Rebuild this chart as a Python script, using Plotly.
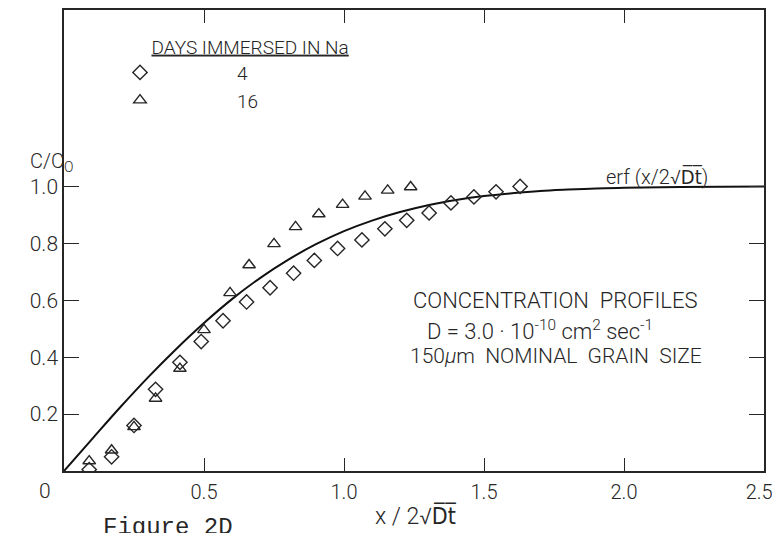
import plotly.graph_objects as go

# ---- data ----
x_4days = [0.09, 0.17, 0.25, 0.327, 0.414, 0.49, 0.568, 0.652, 0.736, 0.82,
           0.894, 0.977, 1.064, 1.146, 1.224, 1.304, 1.382, 1.464, 1.543, 1.629]
y_4days = [0.005, 0.05, 0.16, 0.287, 0.382, 0.455, 0.528, 0.594, 0.644, 0.695,
           0.74, 0.782, 0.812, 0.851, 0.881, 0.907, 0.942, 0.963, 0.981, 1.0]

x_16days = [0.09, 0.17, 0.25, 0.327, 0.414, 0.50, 0.593, 0.661, 0.75, 0.827,
            0.91, 0.995, 1.075, 1.156, 1.238]
y_16days = [0.035, 0.073, 0.155, 0.255, 0.36, 0.496, 0.626, 0.724, 0.798, 0.858,
            0.903, 0.936, 0.965, 0.986, 0.998]

# erf curve
x_curve = [0.0, 0.1, 0.2, 0.3, 0.4, 0.5, 0.6, 0.7, 0.8, 0.9, 1.0, 1.1, 1.2,
           1.3, 1.4, 1.5, 1.6, 1.7, 1.8, 1.9, 2.0, 2.2, 2.5]
y_curve = [0.0, 0.112, 0.223, 0.329, 0.428, 0.52, 0.604, 0.678, 0.742, 0.797,
           0.843, 0.88, 0.91, 0.934, 0.952, 0.966, 0.976, 0.984, 0.989, 0.993,
           0.995, 0.998, 1.0]

NB = "\u00a0"
x_tickvals = [0.5, 1.0, 1.5, 2.0, 2.5]
x_ticktext = ["0.5", "1.0", "1.5", "2.0", "2.5" + NB * 2]
y_tickvals = [0.2, 0.4, 0.6, 0.8, 1.0]
y_ticktext = ["0.2", "0.4", "0.6", "0.8", "1.0"]

INK = "#262626"
FONT = "Roboto, 'DejaVu Sans Condensed', sans-serif"

fig = go.Figure()
fig.add_trace(go.Scatter(x=x_curve, y=y_curve, mode="lines", line=dict(color="#111", width=2, shape="spline"),
                         showlegend=False, hoverinfo="skip"))
fig.add_trace(go.Scatter(x=x_4days, y=y_4days, mode="markers", name="4",
                         marker=dict(symbol="diamond-open", size=11, color=INK, line=dict(width=1.4, color=INK))))
fig.add_trace(go.Scatter(x=x_16days, y=y_16days, mode="markers", name="16",
                         marker=dict(symbol="triangle-up-open", size=11, color=INK, line=dict(width=1.4, color=INK))))

# the page body has an 8px margin: plot area is placed so that on screen it spans x 64..764, y 8..471
fig.update_layout(
    width=780, height=533,
    margin=dict(l=56, r=24, t=0, b=70, pad=0),
    paper_bgcolor="white", plot_bgcolor="white",
    font=dict(family=FONT, color=INK, size=22, weight=300),
    legend=dict(
        x=(43 - 64) / 700.0, y=1 - (27 - 8) / 463.0, xanchor="left", yanchor="top",
        title=dict(text=NB * 23 + "<u>DAYS" + NB + "IMMERSED" + NB + "IN" + NB + "Na</u>",
                   font=dict(size=19, family=FONT, color=INK)),
        font=dict(size=19, family=FONT, color=INK),
        itemwidth=184, bgcolor="rgba(0,0,0,0)", tracegroupgap=0,
    ),
    xaxis=dict(range=[0, 2.5], tickvals=x_tickvals, ticktext=x_ticktext,
               showgrid=False, zeroline=False, showline=True, mirror="ticks",
               linecolor=INK, linewidth=1.5, ticks="inside", ticklen=13, tickwidth=1.3,
               tickcolor=INK, tickfont=dict(size=20), ticklabelstandoff=2),
    yaxis=dict(range=[0, 1.62], tickvals=y_tickvals, ticktext=y_ticktext,
               showgrid=False, zeroline=False, showline=True, mirror="ticks",
               linecolor=INK, linewidth=1.5, ticks="inside", ticklen=15, tickwidth=1.3,
               tickcolor=INK, tickfont=dict(size=21)),
)

def px_to_paper(px, py):
    return (px - 64) / 700.0, 1 - (py - 8) / 463.0

ann = []
def add_text(text, px, py, size, **kw):
    xp, yp = px_to_paper(px, py)
    d = dict(text=text, x=xp, y=yp, xref="paper", yref="paper", showarrow=False,
             xanchor="center", yanchor="middle", font=dict(size=size))
    d.update(kw)
    ann.append(d)

add_text("0", 45, 491, 21)
add_text("C/C<sub>O</sub>", 51, 161, 20)
add_text("x" + NB + "/" + NB + "2\u221aD\u0305t\u0305", 416, 516, 23)
add_text("erf" + NB + "(x/2\u221aD\u0305t\u0305)", 657, 175, 20)
add_text("CONCENTRATION" + NB * 2 + "PROFILES", 555, 300, 22)
add_text("D" + NB + "=" + NB + "3.0" + NB + "\u00b7" + NB + "10<sup>-10</sup>" + NB + "cm<sup>2</sup>" + NB + "sec<sup>-1</sup>",
         540, 329, 22)
add_text("150<i>\u03bc</i>m" + NB * 2 + "NOMINAL" + NB * 2 + "GRAIN" + NB * 2 + "SIZE", 556, 356, 21)
xf, yf = px_to_paper(101, 512)
ann.append(dict(text="Figure 2D", x=xf, y=yf, xref="paper", yref="paper", xanchor="left", yanchor="top",
                showarrow=False, font=dict(size=24, family="'Liberation Mono', monospace", weight=400)))
fig.update_layout(annotations=ann)

fig.write_html("out.html")
